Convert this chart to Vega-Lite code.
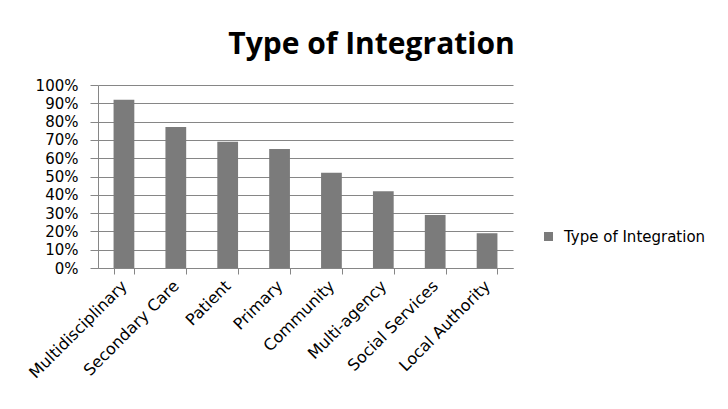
{
  "$schema": "https://vega.github.io/schema/vega-lite/v6.json",
  "width": 415,
  "height": 183,
  "autosize": {"type": "none"},
  "padding": {"left": 98, "top": 85, "right": 215, "bottom": 141},
  "background": "white",
  "title": {
    "text": "Type of Integration",
    "font": "Open Sans",
    "fontSize": 30,
    "fontWeight": "bold",
    "color": "#000000",
    "anchor": "middle",
    "dx": 66,
    "offset": 18
  },
  "data": {
    "values": [
      {"type": "Multidisciplinary", "share": 0.92, "series": "Type of Integration"},
      {"type": "Secondary Care", "share": 0.77, "series": "Type of Integration"},
      {"type": "Patient", "share": 0.69, "series": "Type of Integration"},
      {"type": "Primary", "share": 0.65, "series": "Type of Integration"},
      {"type": "Community", "share": 0.52, "series": "Type of Integration"},
      {"type": "Multi-agency", "share": 0.42, "series": "Type of Integration"},
      {"type": "Social Services", "share": 0.29, "series": "Type of Integration"},
      {"type": "Local Authority", "share": 0.19, "series": "Type of Integration"}
    ]
  },
  "mark": {"type": "bar"},
  "encoding": {
    "x": {
      "field": "type",
      "type": "nominal",
      "sort": null,
      "title": null,
      "scale": {"paddingInner": 0.6, "paddingOuter": 0.3},
      "axis": {
        "labelAngle": -45,
        "labelAlign": "right",
        "labelBaseline": "middle",
        "labelFont": "DejaVu Sans",
        "labelFontSize": 16,
        "labelColor": "#000000",
        "labelPadding": 9,
        "tickBand": "extent",
        "tickSize": 6,
        "tickColor": "#868686",
        "domainColor": "#868686",
        "grid": false
      }
    },
    "y": {
      "field": "share",
      "type": "quantitative",
      "title": null,
      "scale": {"domain": [0, 1], "nice": false},
      "axis": {
        "values": [0, 0.1, 0.2, 0.3, 0.4, 0.5, 0.6, 0.7, 0.8, 0.9, 1],
        "format": ".0%",
        "labelFont": "DejaVu Sans",
        "labelFontSize": 15,
        "labelColor": "#000000",
        "labelPadding": 12,
        "tickSize": 8,
        "tickColor": "#868686",
        "domainColor": "#868686",
        "gridColor": "#868686",
        "gridOpacity": 1
      }
    },
    "color": {
      "field": "series",
      "type": "nominal",
      "scale": {"range": ["#7b7b7b"]},
      "legend": {
        "title": null,
        "orient": "none",
        "legendX": 443,
        "legendY": 144,
        "padding": 0,
        "symbolType": "square",
        "symbolSize": 81,
        "symbolStrokeWidth": 0,
        "labelFont": "DejaVu Sans",
        "labelFontSize": 15,
        "labelColor": "#000000",
        "labelOffset": 8
      }
    }
  },
  "config": {
    "view": {"stroke": null}
  }
}
